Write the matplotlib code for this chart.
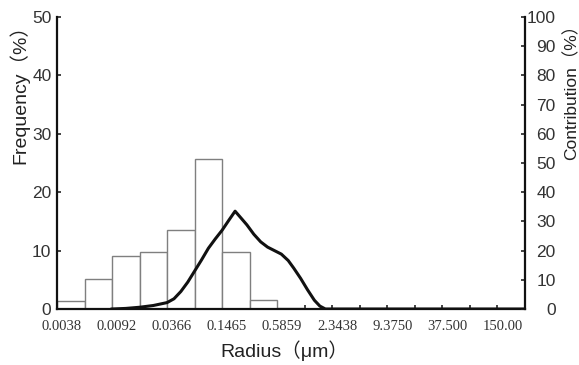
import numpy as np
import matplotlib
matplotlib.use('Agg')
import matplotlib.pyplot as plt

# histogram bins (one unit per bin) and labels on every second boundary
tick_labels = ['0.0038', '0.0092', '0.0366', '0.1465', '0.5859',
               '2.3438', '9.3750', '37.500', '150.00']
freq = [1.3, 5.1, 9.1, 9.7, 13.5, 25.7, 9.8, 1.5, 0.2,
        0, 0, 0, 0, 0, 0, 0, 0]

# contribution curve (x in bin units, y in %)
curve_x = [2.0, 2.5, 3.0, 3.5, 4.0, 4.25, 4.5, 4.75, 5.0, 5.25, 5.5,
           5.75, 6.0, 6.25, 6.47, 6.7, 6.9, 7.15, 7.4, 7.65, 7.9,
           8.15, 8.4, 8.6, 8.85, 9.1, 9.35, 9.55, 9.75, 17.0]
curve_y = [0.0, 0.2, 0.6, 1.2, 2.2, 3.5, 6.0, 9.2, 13.0, 16.8, 20.8,
           24.0, 27.0, 30.5, 33.5, 31.0, 28.8, 25.6, 23.0, 21.2, 20.0,
           18.8, 16.6, 14.0, 10.5, 6.6, 3.0, 1.0, 0.0, 0.0]

sans = ['Liberation Sans', 'Noto Sans CJK SC', 'DejaVu Sans']

fig = plt.figure(figsize=(5.79, 3.65), dpi=100)
ax = fig.add_axes([0.0984, 0.1534, 0.8083, 0.8000])

n = len(freq)
x = np.arange(n)
ax.bar(x, freq, width=1.0, align='edge', color='white',
       edgecolor='#7f7f7f', linewidth=1.0, zorder=2)

ax.set_xlim(0, n)
ax.set_ylim(0, 50)
ax.set_yticks(np.arange(0, 51, 10))
# tick marks on every bin edge, labels (minor, no mark) on every second
# edge, nudged a little right like in the original
ax.set_xticks(np.arange(0, n + 1))
ax.set_xticklabels([])
ax.set_xticks(np.arange(len(tick_labels)) * 2 + 0.18, minor=True)
ax.set_xticklabels(tick_labels, minor=True, family='Liberation Serif',
                   fontsize=10.5, color='#333333')
for t in ax.get_yticklabels():
    t.set_family(sans)
    t.set_fontsize(12.5)
    t.set_color('#333333')

ax.tick_params(axis='both', direction='in', length=3, width=1.2,
               color='#222222')
ax.tick_params(axis='x', which='minor', length=0, pad=8)
ax.tick_params(axis='y', pad=4)

ax.spines['top'].set_visible(False)
ax.spines['right'].set_visible(False)
ax.spines['left'].set_linewidth(1.6)
ax.spines['bottom'].set_linewidth(1.6)
ax.spines['left'].set_color('#111111')
ax.spines['bottom'].set_color('#111111')

ax.set_xlabel('Radius（μm）', family=sans, fontsize=14, color='#222222',
              labelpad=5)
ax.xaxis.label.set_x(0.485)
ax.set_ylabel('Frequency（%）', family=sans, fontsize=14, color='#222222',
              ha='right')
ax.yaxis.set_label_coords(-0.058, 1.005)

ax2 = ax.twinx()
ax2.plot(curve_x, curve_y, color='#111111', linewidth=2.2, zorder=3)
ax2.set_ylim(0, 100)
ax2.set_yticks(np.arange(0, 101, 10))
ax2.tick_params(axis='y', direction='in', length=3, width=1.2,
                color='#222222', pad=22)
for t in ax2.get_yticklabels():
    t.set_family(sans)
    t.set_fontsize(12.5)
    t.set_color('#333333')
    t.set_ha('right')
ax2.spines['top'].set_visible(False)
ax2.spines['left'].set_visible(False)
ax2.spines['bottom'].set_visible(False)
ax2.spines['right'].set_linewidth(1.6)
ax2.spines['right'].set_color('#111111')
ax2.set_ylabel('Contribution（%）', family=sans, fontsize=12.5,
               color='#222222', ha='right')
ax2.yaxis.set_label_coords(1.081, 1.005)

fig.savefig('out.png', dpi=100)
